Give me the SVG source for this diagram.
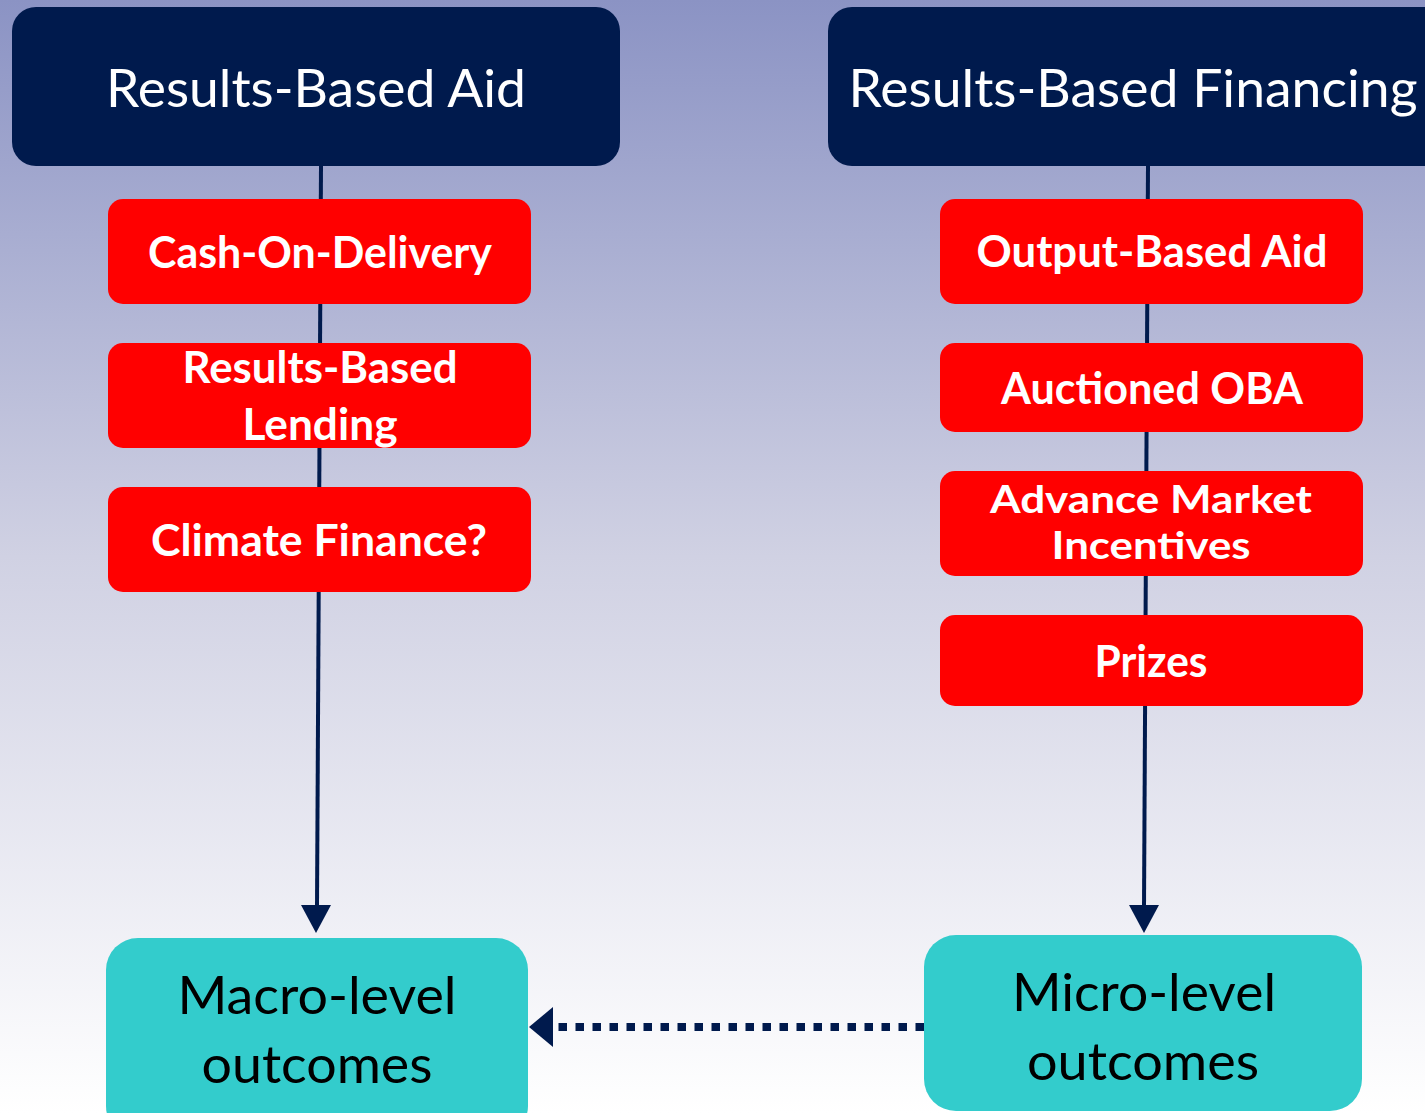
<svg xmlns="http://www.w3.org/2000/svg" width="1425" height="1113" viewBox="0 0 1425 1113">
<defs>
<linearGradient id="bg" x1="0" y1="0" x2="0" y2="1">
<stop offset="0" stop-color="#8b93c4"/>
<stop offset="0.5" stop-color="#d0d1e3"/>
<stop offset="1" stop-color="#ffffff"/>
</linearGradient>
</defs>
<style>
.head{fill:#001a4d}
.red{fill:#ff0000}
.teal{fill:#33cccc}
.ht{font-family:Lato,"Open Sans",sans-serif;font-size:52px;fill:#ffffff;text-anchor:middle}
.rt{font-family:Lato,"Open Sans",sans-serif;font-size:44px;font-weight:bold;fill:#ffffff;text-anchor:middle}
.rs{font-size:38px}
.tt{font-family:Lato,"Open Sans",sans-serif;font-size:52px;fill:#000000;text-anchor:middle}
.ln{stroke:#001a4d;stroke-width:4;fill:none}
.ah{fill:#001a4d}
</style>
<rect x="0" y="0" width="1425" height="1113" fill="url(#bg)"/>
<g id="connectors">
<path class="ln" d="M321,166 L317,907" />
<path class="ah" d="M301,905 L331,905 L316,933 Z"/>
<path class="ln" d="M1148,166 L1144,907" />
<path class="ah" d="M1129,905 L1159,905 L1144,933 Z"/>
<path d="M924,1027 L553,1027" stroke="#001a4d" stroke-width="8" stroke-dasharray="8.5 8.5" fill="none"/>
<path class="ah" d="M553,1007 L553,1047 L529,1027 Z"/>
</g>
<g id="rba">
<rect class="head" x="12" y="7" width="608" height="159" rx="24"/>
<text class="ht" x="316" y="107" textLength="420" lengthAdjust="spacingAndGlyphs">Results-Based Aid</text>
</g>
<g id="rbf">
<rect class="head" x="828" y="7" width="620" height="159" rx="24"/>
<text class="ht" x="1133" y="107" textLength="569" lengthAdjust="spacingAndGlyphs">Results-Based Financing</text>
</g>
<g id="cod">
<rect class="red" x="108" y="199" width="423" height="105" rx="15"/>
<text class="rt" x="320" y="268" textLength="344" lengthAdjust="spacingAndGlyphs">Cash-On-Delivery</text>
</g>
<g id="rbl">
<rect class="red" x="108" y="343" width="423" height="105" rx="15"/>
<text class="rt" x="320" y="383" textLength="275" lengthAdjust="spacingAndGlyphs">Results-Based</text>
<text class="rt" x="320" y="440" textLength="155" lengthAdjust="spacingAndGlyphs">Lending</text>
</g>
<g id="cf">
<rect class="red" x="108" y="487" width="423" height="105" rx="15"/>
<text class="rt" x="319" y="556" textLength="336" lengthAdjust="spacingAndGlyphs">Climate Finance?</text>
</g>
<g id="oba">
<rect class="red" x="940" y="199" width="423" height="105" rx="15"/>
<text class="rt" x="1152" y="267" textLength="351" lengthAdjust="spacingAndGlyphs">Output-Based Aid</text>
</g>
<g id="aoba">
<rect class="red" x="940" y="343" width="423" height="89" rx="15"/>
<text class="rt" x="1152" y="404" textLength="302" lengthAdjust="spacingAndGlyphs">Auctioned OBA</text>
</g>
<g id="ami">
<rect class="red" x="940" y="471" width="423" height="105" rx="15"/>
<text class="rt rs" x="1151" y="513" textLength="322" lengthAdjust="spacingAndGlyphs">Advance Market</text>
<text class="rt rs" x="1151" y="559" textLength="199" lengthAdjust="spacingAndGlyphs">Incentives</text>
</g>
<g id="prizes">
<rect class="red" x="940" y="615" width="423" height="91" rx="15"/>
<text class="rt" x="1151" y="677" textLength="113" lengthAdjust="spacingAndGlyphs">Prizes</text>
</g>
<g id="macro">
<rect class="teal" x="106" y="938" width="422" height="200" rx="32"/>
<text class="tt" x="317" y="1014" textLength="279" lengthAdjust="spacingAndGlyphs">Macro-level</text>
<text class="tt" x="317" y="1083" textLength="231" lengthAdjust="spacingAndGlyphs">outcomes</text>
</g>
<g id="micro">
<rect class="teal" x="924" y="935" width="438" height="176" rx="32"/>
<text class="tt" x="1144" y="1011" textLength="264" lengthAdjust="spacingAndGlyphs">Micro-level</text>
<text class="tt" x="1143" y="1080" textLength="232" lengthAdjust="spacingAndGlyphs">outcomes</text>
</g>
</svg>
